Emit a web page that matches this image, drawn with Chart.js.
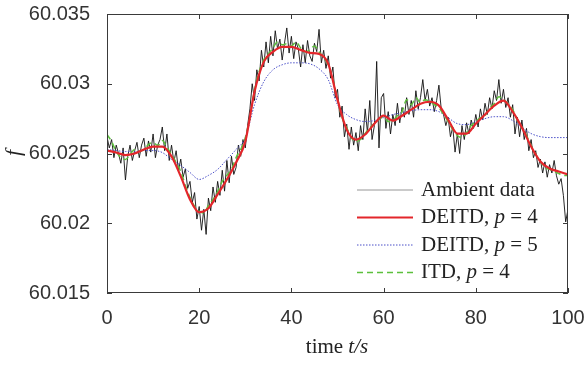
<!DOCTYPE html>
<html>
<head>
<meta charset="utf-8">
<script src="https://cdn.jsdelivr.net/npm/chart.js@4.4.1/dist/chart.umd.min.js"></script>
<style>
  html, body { margin: 0; padding: 0; background: #fff; }
  #wrap { width: 586px; height: 365px; }
</style>
</head>
<body>
<div id="wrap"><canvas id="freqChart" width="586" height="365"></canvas></div>
<script>
// axis ticks
const xTicks = [0, 20, 40, 60, 80, 100];
const yTicks = [60.015, 60.02, 60.025, 60.03, 60.035];

// ambient data, sampled every 0.5 s
const ambientStep = 0.5;
const ambient = [
  60.0262, 60.0254, 60.0260, 60.0247, 60.0256, 60.0250, 60.0243, 60.0254, 60.0231, 60.0248,
  60.0256, 60.0245, 60.0252, 60.0258, 60.0247, 60.0256, 60.0261, 60.0248, 60.0259, 60.0251,
  60.0264, 60.0247, 60.0256, 60.0260, 60.0269, 60.0252, 60.0264, 60.0245, 60.0256, 60.0244,
  60.0252, 60.0238, 60.0246, 60.0233, 60.0239, 60.0225, 60.0230, 60.0215, 60.0222, 60.0203,
  60.0212, 60.0195, 60.0210, 60.0192, 60.0218, 60.0209, 60.0226, 60.0215, 60.0230, 60.0220,
  60.0238, 60.0223, 60.0245, 60.0229, 60.0248, 60.0235, 60.0240, 60.0256, 60.0248, 60.0260,
  60.0254, 60.0270, 60.0282, 60.0300, 60.0288, 60.0310, 60.0302, 60.0324, 60.0312, 60.0330,
  60.0315, 60.0334, 60.0320, 60.0338, 60.0325, 60.0332, 60.0317, 60.0329, 60.0340, 60.0322,
  60.0334, 60.0318, 60.0330, 60.0325, 60.0312, 60.0328, 60.0315, 60.0331, 60.0320, 60.0316,
  60.0329, 60.0323, 60.0339, 60.0315, 60.0324, 60.0311, 60.0320, 60.0304, 60.0312, 60.0290,
  60.0296, 60.0276, 60.0284, 60.0262, 60.0271, 60.0253, 60.0269, 60.0256, 60.0265, 60.0252,
  60.0270, 60.0260, 60.0282, 60.0265, 60.0288, 60.0260, 60.0270, 60.0316, 60.0254, 60.0290,
  60.0293, 60.0268, 60.0280, 60.0264, 60.0278, 60.0270, 60.0286, 60.0272, 60.0283, 60.0276,
  60.0290, 60.0278, 60.0288, 60.0276, 60.0295, 60.0282, 60.0290, 60.0303, 60.0288, 60.0296,
  60.0284, 60.0290, 60.0280, 60.0288, 60.0299, 60.0282, 60.0278, 60.0270, 60.0276, 60.0262,
  60.0269, 60.0251, 60.0264, 60.0250, 60.0270, 60.0260, 60.0272, 60.0264, 60.0274, 60.0268,
  60.0278, 60.0269, 60.0282, 60.0274, 60.0286, 60.0278, 60.0290, 60.0282, 60.0295, 60.0288,
  60.0303, 60.0286, 60.0296, 60.0283, 60.0290, 60.0276, 60.0285, 60.0264, 60.0276, 60.0262,
  60.0274, 60.0260, 60.0268, 60.0252, 60.0260, 60.0247, 60.0252, 60.0240, 60.0246, 60.0236,
  60.0244, 60.0233, 60.0242, 60.0236, 60.0245, 60.0234, 60.0228, 60.0232, 60.0220, 60.0201,
  60.0210
];

// DEITD p = 4, every 2 s
const smoothStep = 2;
const deitd4 = [
  60.02521, 60.02507, 60.02489, 60.02500, 60.02529, 60.02550, 60.02550, 60.02479, 60.02336, 60.02171,
  60.02079, 60.02107, 60.02207, 60.02314, 60.02436, 60.02586, 60.02943, 60.03157, 60.03229, 60.03264,
  60.03264, 60.03243, 60.03221, 60.03214, 60.03143, 60.02886, 60.02671, 60.02600, 60.02636, 60.02714,
  60.02771, 60.02736, 60.02771, 60.02814, 60.02857, 60.02871, 60.02843, 60.02743, 60.02643, 60.02643,
  60.02714, 60.02779, 60.02843, 60.02879, 60.02800, 60.02686, 60.02550, 60.02443, 60.02393, 60.02371,
  60.02350
];

// DEITD p = 5, every 2 s
const deitd5 = [
  60.02529, 60.02521, 60.02514, 60.02514, 60.02521, 60.02521, 60.02507, 60.02457, 60.02414, 60.02364,
  60.02314, 60.02343, 60.02386, 60.02457, 60.02529, 60.02614, 60.02850, 60.03014, 60.03100, 60.03136,
  60.03150, 60.03150, 60.03143, 60.03107, 60.03029, 60.02850, 60.02779, 60.02743, 60.02729, 60.02736,
  60.02757, 60.02779, 60.02793, 60.02807, 60.02814, 60.02814, 60.02800, 60.02757, 60.02714, 60.02707,
  60.02729, 60.02750, 60.02764, 60.02764, 60.02736, 60.02686, 60.02643, 60.02621, 60.02614, 60.02614,
  60.02614
];

// ITD p = 4, every 1 s
const itdStep = 1;
const itd4 = [
  60.02636, 60.02586, 60.02514, 60.02471, 60.02457, 60.02493, 60.02529, 60.02514, 60.02529, 60.02564,
  60.02579, 60.02557, 60.02593, 60.02543, 60.02493, 60.02436, 60.02371, 60.02271, 60.02186, 60.02121,
  60.02086, 60.02071, 60.02129, 60.02171, 60.02229, 60.02300, 60.02343, 60.02386, 60.02471, 60.02529,
  60.02614, 60.02757, 60.02957, 60.03086, 60.03171, 60.03214, 60.03257, 60.03300, 60.03279, 60.03286,
  60.03271, 60.03300, 60.03257, 60.03229, 60.03243, 60.03271, 60.03229, 60.03186, 60.03136, 60.03029,
  60.02886, 60.02757, 60.02686, 60.02614, 60.02586, 60.02600, 60.02643, 60.02686, 60.02714, 60.02743,
  60.02764, 60.02729, 60.02736, 60.02771, 60.02800, 60.02886, 60.02850, 60.02900, 60.02864, 60.02886,
  60.02871, 60.02850, 60.02829, 60.02779, 60.02729, 60.02671, 60.02629, 60.02614, 60.02650, 60.02700,
  60.02729, 60.02757, 60.02771, 60.02829, 60.02857, 60.02907, 60.02886, 60.02857, 60.02814, 60.02743,
  60.02686, 60.02629, 60.02557, 60.02493, 60.02443, 60.02400, 60.02386, 60.02371, 60.02357, 60.02343,
  60.02343
];

function toPoints(values, step) {
  return values.map((v, i) => ({ x: i * step, y: v }));
}

const axisColor = '#3a3a3a';
const tickFont = { family: '"Liberation Sans", Arial, sans-serif', size: 20 };
const serif = '"Liberation Serif", "Times New Roman", serif';

// box around the plot with inward ticks, plus legend and axis titles
const matlabLook = {
  id: 'matlabLook',
  afterDatasetsDraw(chart) {
    const { ctx, chartArea: a, scales } = chart;
    ctx.save();
    ctx.strokeStyle = axisColor;
    ctx.lineWidth = 1;
    ctx.strokeRect(a.left + 0.5, a.top + 0.5, a.right - a.left - 1, a.bottom - a.top - 1);
    const len = 5;
    ctx.beginPath();
    xTicks.forEach(t => {
      const px = Math.round(scales.x.getPixelForValue(t)) + 0.5;
      ctx.moveTo(px, a.bottom); ctx.lineTo(px, a.bottom - len);
      ctx.moveTo(px, a.top); ctx.lineTo(px, a.top + len);
    });
    yTicks.forEach(t => {
      const py = Math.round(scales.y.getPixelForValue(t)) + 0.5;
      ctx.moveTo(a.left, py); ctx.lineTo(a.left + len, py);
      ctx.moveTo(a.right, py); ctx.lineTo(a.right - len, py);
    });
    ctx.stroke();
    ctx.restore();
  },
  afterDraw(chart) {
    const { ctx } = chart;
    ctx.save();
    ctx.fillStyle = '#222';
    ctx.textBaseline = 'middle';

    // legend
    const parts = [
      ['Ambient data'],
      ['DEITD, ', 'p', ' = 4'],
      ['DEITD, ', 'p', ' = 5'],
      ['ITD, ', 'p', ' = 4']
    ];
    const rowY = [190, 217.5, 245, 272.5];
    parts.forEach((row, di) => {
      const ds = chart.data.datasets[di];
      const y = rowY[di];
      ctx.save();
      ctx.strokeStyle = di === 0 ? '#8a8a8a' : ds.borderColor;
      ctx.lineWidth = ds.borderWidth;
      ctx.setLineDash(ds.borderDash || []);
      ctx.beginPath();
      ctx.moveTo(357, y); ctx.lineTo(413, y);
      ctx.stroke();
      ctx.restore();
      let x = 421;
      row.forEach((s, k) => {
        ctx.font = (k === 1 ? 'italic ' : '') + '21px ' + serif;
        ctx.fillText(s, x, y);
        x += ctx.measureText(s).width;
      });
    });

    // x title: time t/s
    ctx.font = '21px ' + serif;
    const w1 = ctx.measureText('time ').width;
    ctx.font = 'italic 21px ' + serif;
    const w2 = ctx.measureText('t/s').width;
    const tx = 337 - (w1 + w2) / 2;
    ctx.font = '21px ' + serif;
    ctx.fillText('time ', tx, 347);
    ctx.font = 'italic 21px ' + serif;
    ctx.fillText('t/s', tx + w1, 347);

    // y title: f
    ctx.translate(14, 153);
    ctx.rotate(-Math.PI / 2);
    ctx.textAlign = 'center';
    ctx.font = 'italic 22px ' + serif;
    ctx.fillText('f', 0, 0);
    ctx.restore();
  }
};

new Chart(document.getElementById('freqChart'), {
  type: 'line',
  data: {
    datasets: [
      {
        label: 'Ambient data',
        data: toPoints(ambient, ambientStep),
        borderColor: '#111111',
        borderWidth: 0.9,
        pointRadius: 0,
        tension: 0,
        order: 4
      },
      {
        label: 'DEITD, p = 4',
        data: toPoints(deitd4, smoothStep),
        borderColor: '#e3262b',
        borderWidth: 2.2,
        pointRadius: 0,
        cubicInterpolationMode: 'monotone',
        order: 1
      },
      {
        label: 'DEITD, p = 5',
        data: toPoints(deitd5, smoothStep),
        borderColor: '#4a4fc8',
        borderWidth: 1,
        borderDash: [1.5, 1.5],
        pointRadius: 0,
        cubicInterpolationMode: 'monotone',
        order: 3
      },
      {
        label: 'ITD, p = 4',
        data: toPoints(itd4, itdStep),
        borderColor: '#5cc03c',
        borderWidth: 1.5,
        borderDash: [6, 4],
        pointRadius: 0,
        cubicInterpolationMode: 'monotone',
        order: 2
      }
    ]
  },
  options: {
    responsive: false,
    animation: false,
    layout: { padding: { left: 0, top: 14, right: 18, bottom: 0 } },
    plugins: { legend: { display: false }, tooltip: { enabled: false } },
    scales: {
      x: {
        type: 'linear',
        min: 0,
        max: 100,
        afterBuildTicks: s => { s.ticks = xTicks.map(v => ({ value: v })); },
        afterFit: s => { s.height = 72; s.paddingLeft = 0; s.paddingRight = 0; },
        grid: { display: false },
        border: { display: false },
        ticks: { color: '#333', font: tickFont, padding: 5, maxRotation: 0 }
      },
      y: {
        type: 'linear',
        min: 60.015,
        max: 60.035,
        afterBuildTicks: s => { s.ticks = yTicks.map(v => ({ value: v })); },
        afterFit: s => { s.width = 107; s.paddingTop = 0; s.paddingBottom = 0; },
        grid: { display: false },
        border: { display: false },
        ticks: {
          color: '#333',
          font: tickFont,
          padding: 9,
          callback: v => String(parseFloat(Number(v).toFixed(3)))
        }
      }
    }
  },
  plugins: [matlabLook]
});
</script>
</body>
</html>
